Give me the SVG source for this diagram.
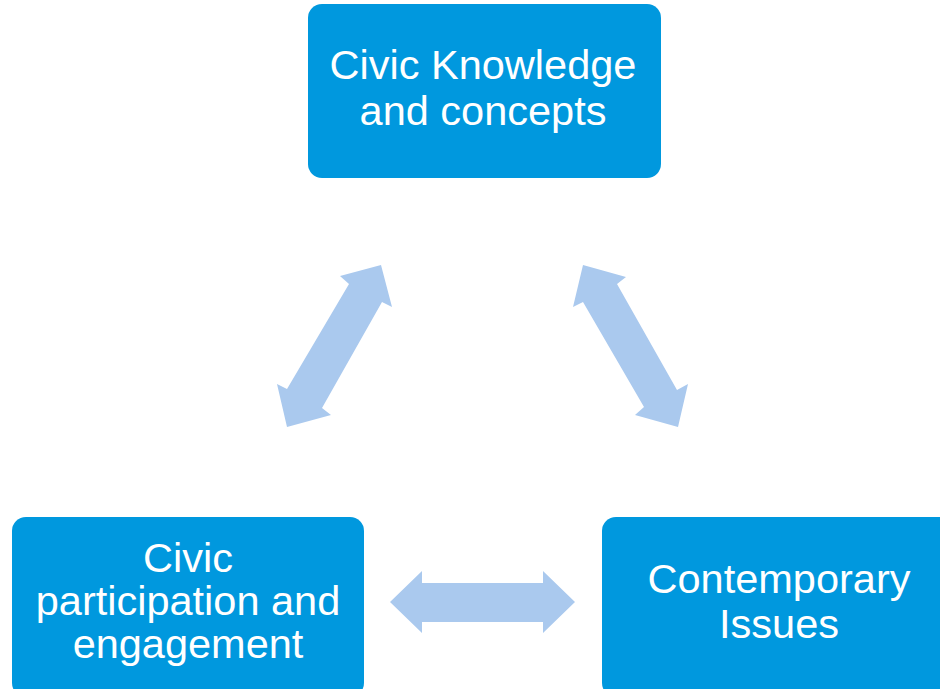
<svg xmlns="http://www.w3.org/2000/svg" width="940" height="689" viewBox="0 0 940 689">
<style>
.box{fill:#0098DE;}
.lbl{font-family:"Liberation Sans",Arial,sans-serif;font-size:41.5px;fill:#ffffff;text-anchor:middle;}
.arr{fill:#AAC9EE;}
</style>
<rect width="940" height="689" fill="#ffffff"/>
<g id="connectors">
<polygon class="arr" points="381,265 392,307 382,302 322,408 331,415 287,427 277,384 287,389 349,284 340,276"/>
<polygon class="arr" points="583,265 626,277 617,284 677,390 688,384 678,427 635,415 644,407 583,302 573,307"/>
<polygon class="arr" points="390,602 422,571 422,583 543,583 543,571 575,602 543,633 543,622 422,622 422,633"/>
</g>
<g id="node-knowledge">
<rect class="box" x="308" y="4" width="353" height="174" rx="14"/>
<text class="lbl" x="483" y="79">Civic Knowledge</text>
<text class="lbl" x="483" y="125">and concepts</text>
</g>
<g id="node-participation">
<rect class="box" x="12" y="517" width="352" height="180" rx="14"/>
<text class="lbl" x="188" y="572">Civic</text>
<text class="lbl" x="188" y="615">participation and</text>
<text class="lbl" x="188" y="658">engagement</text>
</g>
<g id="node-issues">
<rect class="box" x="602" y="517" width="353" height="180" rx="14"/>
<text class="lbl" x="779" y="593">Contemporary</text>
<text class="lbl" x="779" y="638">Issues</text>
</g>
</svg>
